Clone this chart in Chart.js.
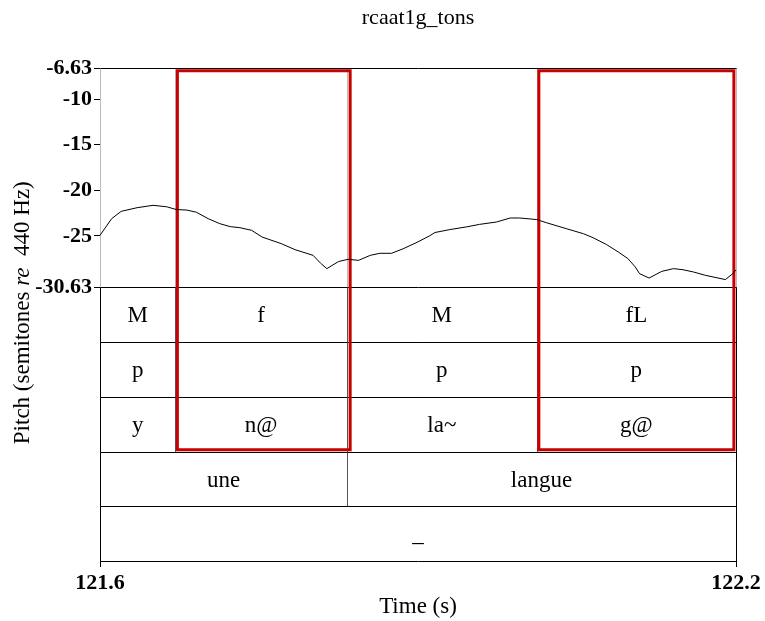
<!DOCTYPE html>
<html>
<head>
<meta charset="utf-8">
<title>rcaat1g_tons</title>
<script src="https://cdn.jsdelivr.net/npm/chart.js@4.4.1/dist/chart.umd.min.js"></script>
<style>
  html, body { margin: 0; padding: 0; background: #fff; }
  #wrap { width: 765px; height: 621px; }
</style>
</head>
<body>
<div id="wrap"><canvas id="pitchChart"></canvas></div>
<script>
// pitch contour (time in s, semitones re 440 Hz)
const times = [
  121.600, 121.611, 121.620, 121.635, 121.650, 121.663, 121.672, 121.682, 121.691, 121.702,
  121.713, 121.723, 121.732, 121.743, 121.753, 121.771, 121.784, 121.801, 121.808, 121.814,
  121.825, 121.834, 121.844, 121.855, 121.864, 121.875, 121.886, 121.899, 121.911, 121.916,
  121.930, 121.946, 121.958, 121.974, 121.987, 121.996, 122.012, 122.021, 122.040, 122.056,
  122.065, 122.078, 122.089, 122.098, 122.105, 122.109, 122.118, 122.130, 122.141, 122.150,
  122.160, 122.171, 122.190, 122.197, 122.200
];
const pitch = [
  -24.93, -23.10, -22.30, -21.90, -21.64, -21.80, -22.10, -22.16, -22.40, -23.10,
  -23.65, -23.98, -24.09, -24.38, -25.12, -25.84, -26.50, -27.12, -27.97, -28.58,
  -27.80, -27.56, -27.67, -27.12, -26.90, -26.90, -26.40, -25.70, -24.98, -24.62,
  -24.30, -24.00, -23.73, -23.47, -23.03, -23.03, -23.20, -23.54, -24.20, -24.75,
  -25.18, -25.95, -26.76, -27.48, -28.40, -29.13, -29.61, -28.88, -28.58, -28.70,
  -28.95, -29.31, -29.78, -29.13, -28.70
];

const yTicks = [-6.63, -10, -15, -20, -25, -30.63];
const xTicks = [121.6, 122.2];

// annotation tiers
const tierBounds = [121.6, 121.671, 121.833, 122.012, 122.2];
const toneLabels = ["M", "f", "M", "fL"];
const promLabels = ["p", "", "p", "p"];
const syllLabels = ["y", "n@", "la~", "g@"];
const wordBounds = [121.6, 121.833, 122.2];
const wordLabels = ["une", "langue"];
const phraseBounds = [121.6, 122.2];
const phraseLabels = ["_"];

// highlighted syllables
const boxStarts = [121.673, 122.014];
const boxEnds = [121.836, 122.198];

const tiers = [
  { bounds: tierBounds, labels: toneLabels },
  { bounds: tierBounds, labels: promLabels },
  { bounds: tierBounds, labels: syllLabels },
  { bounds: wordBounds, labels: wordLabels },
  { bounds: phraseBounds, labels: phraseLabels },
];

const pitchTop = -6.63;
const pitchFloor = -30.63;
const rowSpan = 6; // y units per tier row
const yFloor = pitchFloor - rowSpan * tiers.length;
const boxTop = pitchTop - 0.25;
const boxBottom = pitchFloor - rowSpan * 3 + 0.2;

const serif = "'Liberation Serif', 'Times New Roman', serif";
Chart.defaults.font.family = serif;
Chart.defaults.color = "#000";

const crisp = v => Math.round(v) + 0.5;

function vline(ctx, px, y0, y1) {
  ctx.beginPath();
  ctx.moveTo(px, y0);
  ctx.lineTo(px, y1);
  ctx.stroke();
}
function hline(ctx, x0, x1, py) {
  ctx.beginPath();
  ctx.moveTo(x0, py);
  ctx.lineTo(x1, py);
  ctx.stroke();
}

// tier grid + boundary lines through the pitch panel
const tierPlugin = {
  id: "tiers",
  beforeDatasetsDraw(chart) {
    const { ctx, scales: { x, y } } = chart;
    const left = crisp(x.getPixelForValue(xTicks[0]));
    const right = crisp(x.getPixelForValue(xTicks[1]));
    const yTop = crisp(y.getPixelForValue(pitchTop));
    const yBase = crisp(y.getPixelForValue(pitchFloor));
    ctx.save();
    ctx.lineWidth = 1;

    ctx.strokeStyle = "#7a7a7a";
    ctx.setLineDash([1, 1]);
    tierBounds.forEach(t => vline(ctx, crisp(x.getPixelForValue(t)), yTop, yBase));
    ctx.setLineDash([]);

    ctx.strokeStyle = "#000";
    hline(ctx, left, right, yTop);

    ctx.font = "23px " + serif;
    ctx.fillStyle = "#000";
    ctx.textAlign = "center";
    ctx.textBaseline = "middle";
    tiers.forEach((tier, i) => {
      const top = crisp(y.getPixelForValue(pitchFloor - rowSpan * i));
      const bottom = crisp(y.getPixelForValue(pitchFloor - rowSpan * (i + 1)));
      ctx.strokeStyle = "#000";
      hline(ctx, left, right, top);
      hline(ctx, left, right, bottom);
      tier.bounds.forEach((t, j) => {
        const edge = j === 0 || j === tier.bounds.length - 1;
        ctx.strokeStyle = edge ? "#000" : "#555";
        vline(ctx, crisp(x.getPixelForValue(t)), top, bottom);
      });
      tier.labels.forEach((lab, j) => {
        const cx = (x.getPixelForValue(tier.bounds[j]) + x.getPixelForValue(tier.bounds[j + 1])) / 2;
        ctx.fillText(lab, cx, (top + bottom) / 2 + 1);
      });
    });
    ctx.restore();
  }
};

// y title with italic "re"
const yTitlePlugin = {
  id: "yTitle",
  afterDraw(chart) {
    const { ctx, chartArea: area } = chart;
    const parts = [["Pitch (semitones ", "normal"], ["re", "italic"], ["  440 Hz)", "normal"]];
    const fontFor = style => `${style} 23px ${serif}`;
    ctx.save();
    ctx.fillStyle = "#000";
    ctx.textBaseline = "middle";
    ctx.textAlign = "left";
    let total = 0;
    parts.forEach(([s, st]) => { ctx.font = fontFor(st); total += ctx.measureText(s).width; });
    ctx.translate(23, (area.top + area.bottom) / 2 - 2);
    ctx.rotate(-Math.PI / 2);
    let pos = -total / 2;
    parts.forEach(([s, st]) => {
      ctx.font = fontFor(st);
      ctx.fillText(s, pos, 0);
      pos += ctx.measureText(s).width;
    });
    ctx.restore();
  }
};

const boxData = i => [
  { x: boxStarts[i], y: boxTop },
  { x: boxEnds[i], y: boxTop },
  { x: boxEnds[i], y: boxBottom },
  { x: boxStarts[i], y: boxBottom },
  { x: boxStarts[i], y: boxTop },
];

const boxStyle = {
  borderColor: "#c80000",
  borderWidth: 3,
  borderCapStyle: "square",
  borderJoinStyle: "miter",
  pointRadius: 0,
  fill: false,
  tension: 0,
};

const ctx = document.getElementById("pitchChart").getContext("2d");

const pitchChart = new Chart(ctx, {
  type: "line",
  data: {
    datasets: [
      {
        label: "pitch",
        data: times.map((t, i) => ({ x: t, y: pitch[i] })),
        borderColor: "#000",
        borderWidth: 1,
        pointRadius: 0,
        fill: false,
        tension: 0,
      },
      { label: "box1", data: boxData(0), ...boxStyle },
      { label: "box2", data: boxData(1), ...boxStyle },
    ],
  },
  options: {
    responsive: true,
    maintainAspectRatio: false,
    animation: false,
    events: [],
    layout: { padding: { left: 0, right: 29, top: 0, bottom: 0 } },
    plugins: {
      legend: { display: false },
      tooltip: { enabled: false },
      title: {
        display: true,
        fullSize: false,
        text: "rcaat1g_tons",
        color: "#000",
        font: { family: serif, size: 22, weight: "normal" },
        padding: { top: 5, bottom: 37 },
      },
    },
    scales: {
      x: {
        type: "linear",
        min: xTicks[0],
        max: xTicks[1],
        border: { display: false },
        grid: { drawOnChartArea: false, drawTicks: true, tickLength: 6, color: "#000" },
        ticks: {
          font: { family: serif, size: 22, weight: "bold" },
          color: "#000",
          padding: 3,
          maxRotation: 0,
          autoSkip: false,
          callback: v => Number(v).toFixed(1),
        },
        title: {
          display: true,
          text: "Time (s)",
          color: "#000",
          font: { family: serif, size: 23, weight: "normal" },
          padding: { top: 0, bottom: 0 },
        },
        afterBuildTicks: scale => { scale.ticks = xTicks.map(v => ({ value: v })); },
        afterFit: scale => {
          scale.height = 60;
          scale.paddingLeft = 0;
          scale.paddingRight = 0;
        },
      },
      y: {
        type: "linear",
        min: yFloor,
        max: pitchTop,
        border: { display: false },
        grid: { drawOnChartArea: false, drawTicks: true, tickLength: 6, color: "#000" },
        ticks: {
          font: { family: serif, size: 22, weight: "bold" },
          color: "#000",
          padding: 2,
          autoSkip: false,
          callback: v => String(v),
        },
        afterBuildTicks: scale => { scale.ticks = yTicks.map(v => ({ value: v })); },
        afterFit: scale => {
          scale.width = 100;
          scale.paddingTop = 0;
          scale.paddingBottom = 0;
        },
      },
    },
  },
  plugins: [tierPlugin, yTitlePlugin],
});
</script>
</body>
</html>
